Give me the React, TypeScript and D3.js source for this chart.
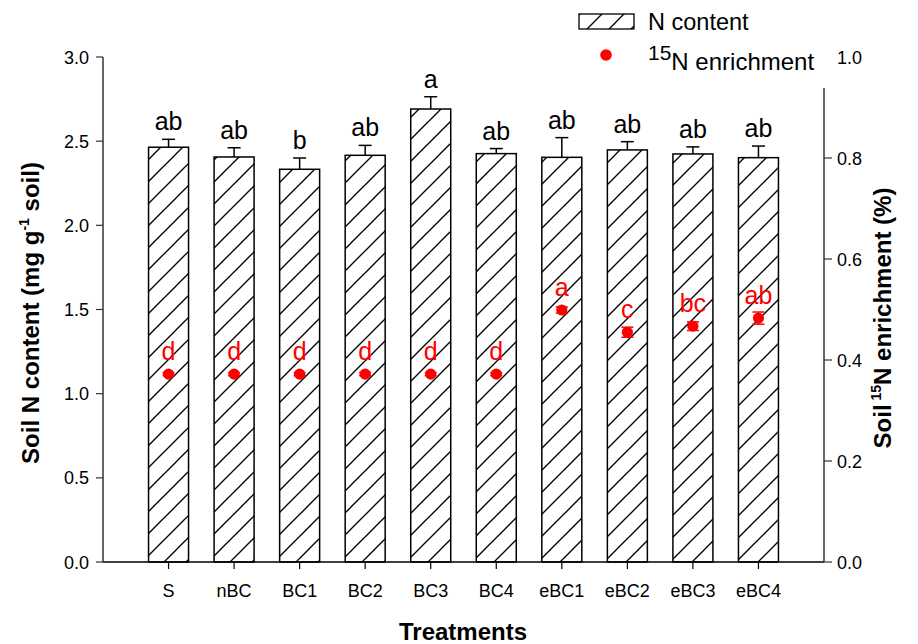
import React from "react";
import * as d3 from "d3";

// Treatments and measured values
const categories = ["S", "nBC", "BC1", "BC2", "BC3", "BC4", "eBC1", "eBC2", "eBC3", "eBC4"];
const nContent = [2.464, 2.406, 2.333, 2.416, 2.691, 2.426, 2.404, 2.448, 2.424, 2.402];
const nContentSE = [0.047, 0.055, 0.067, 0.059, 0.073, 0.03, 0.117, 0.049, 0.042, 0.069];
const nLetters = ["ab", "ab", "b", "ab", "a", "ab", "ab", "ab", "ab", "ab"];
const enrichment = [0.372, 0.372, 0.372, 0.372, 0.372, 0.372, 0.499, 0.455, 0.467, 0.483];
const enrichmentSE = [0.003, 0.003, 0.003, 0.003, 0.003, 0.003, 0.006, 0.01, 0.0085, 0.012];
const enrichLetters = ["d", "d", "d", "d", "d", "d", "a", "c", "bc", "ab"];
const leftTicks = [0, 0.5, 1.0, 1.5, 2.0, 2.5, 3.0];
const rightTicks = [0, 0.2, 0.4, 0.6, 0.8, 1.0];

const W = 918;
const H = 644;
const M = { left: 103, right: 824, top: 57, bottom: 562 };
const FONT = "'Liberation Sans', Arial, Helvetica, sans-serif";
const RED = "#ff0000";

export default function App() {
  const x = d3.scaleLinear().domain([0, categories.length + 1]).range([M.left, M.right]);
  const yL = d3.scaleLinear().domain([0, 3]).range([M.bottom, M.top]);
  const yR = d3.scaleLinear().domain([0, 1]).range([M.bottom, M.top]);
  const fmt = d3.format(".1f");
  const barW = 40;
  const capW = 13;

  return (
    <svg
      width={W}
      height={H}
      style={{ position: "absolute", left: 0, top: 0, background: "#fff" }}
      fontFamily={FONT}
    >
      <defs>
        <pattern id="hatch" patternUnits="userSpaceOnUse" width={22} height={22}>
          <line x1={-2} y1={24} x2={24} y2={-2} stroke="#000" strokeWidth={1.3} />
          <line x1={-24} y1={24} x2={2} y2={-2} stroke="#000" strokeWidth={1.3} />
          <line x1={20} y1={24} x2={46} y2={-2} stroke="#000" strokeWidth={1.3} />
        </pattern>
      </defs>

      {/* bars with hatch fill */}
      {categories.map((c, i) => {
        const cx = x(i + 1);
        return (
          <g key={c}>
            <line
              x1={cx}
              x2={cx}
              y1={yL(nContent[i])}
              y2={yL(nContent[i] + nContentSE[i])}
              stroke="#000"
              strokeWidth={1.5}
            />
            <line
              x1={cx - capW / 2}
              x2={cx + capW / 2}
              y1={yL(nContent[i] + nContentSE[i])}
              y2={yL(nContent[i] + nContentSE[i])}
              stroke="#000"
              strokeWidth={1.5}
            />
            <rect
              x={cx - barW / 2}
              y={yL(nContent[i])}
              width={barW}
              height={yL(0) - yL(nContent[i])}
              fill="url(#hatch)"
              stroke="#000"
              strokeWidth={1.5}
            />
            <text
              x={cx}
              y={yL(nContent[i] + nContentSE[i]) - 9}
              textAnchor="middle"
              fontSize={25}
              fill="#000"
            >
              {nLetters[i]}
            </text>
          </g>
        );
      })}

      {/* 15N enrichment points */}
      {categories.map((c, i) => {
        const cx = x(i + 1);
        const hi = yR(enrichment[i] + enrichmentSE[i]);
        const lo = yR(enrichment[i] - enrichmentSE[i]);
        return (
          <g key={"p" + c}>
            <line x1={cx} x2={cx} y1={lo} y2={hi} stroke={RED} strokeWidth={1.5} />
            <line x1={cx - 6} x2={cx + 6} y1={hi} y2={hi} stroke={RED} strokeWidth={1.5} />
            <line x1={cx - 6} x2={cx + 6} y1={lo} y2={lo} stroke={RED} strokeWidth={1.5} />
            <circle cx={cx} cy={yR(enrichment[i])} r={5.6} fill={RED} />
            <text
              x={cx}
              y={yR(enrichment[i]) - 14}
              textAnchor="middle"
              fontSize={25}
              fill={RED}
            >
              {enrichLetters[i]}
            </text>
          </g>
        );
      })}

      {/* bottom axis */}
      <line x1={M.left} x2={M.right} y1={M.bottom} y2={M.bottom} stroke="#000" strokeWidth={1.5} />
      {categories.map((c, i) => (
        <g key={"xt" + c}>
          <line x1={x(i + 1)} x2={x(i + 1)} y1={M.bottom} y2={M.bottom + 7} stroke="#000" strokeWidth={1.2} />
          <text x={x(i + 1)} y={M.bottom + 35} textAnchor="middle" fontSize={18} fill="#000">
            {c}
          </text>
        </g>
      ))}

      {/* left axis */}
      <line x1={M.left} x2={M.left} y1={M.bottom} y2={M.top} stroke="#333" strokeWidth={1.5} />
      {leftTicks.map((t) => (
        <g key={"yl" + t}>
          <line x1={M.left - 7} x2={M.left} y1={yL(t)} y2={yL(t)} stroke="#333" strokeWidth={1.2} />
          <text x={M.left - 14} y={yL(t) + 6.5} textAnchor="end" fontSize={18} fill="#000">
            {fmt(t)}
          </text>
        </g>
      ))}

      {/* right axis */}
      <line x1={M.right} x2={M.right} y1={M.bottom} y2={M.top} stroke="#333" strokeWidth={1.5} />
      {rightTicks.map((t) => (
        <g key={"yr" + t}>
          <line x1={M.right} x2={M.right + 8} y1={yR(t)} y2={yR(t)} stroke="#333" strokeWidth={1.2} />
          <text x={M.right + 13} y={yR(t) + 6.5} textAnchor="start" fontSize={18} fill="#000">
            {fmt(t)}
          </text>
        </g>
      ))}

      {/* axis titles */}
      <text x={463} y={640} textAnchor="middle" fontSize={24} fontWeight="bold" fill="#000">
        Treatments
      </text>
      <text
        transform="translate(39,313) rotate(-90)"
        textAnchor="middle"
        fontSize={24}
        fontWeight="bold"
        fill="#000"
      >
        Soil N content (mg g
        <tspan fontSize={14} dy={-10}>-1</tspan>
        <tspan dy={10}> soil)</tspan>
      </text>
      <text
        transform="translate(891,318) rotate(-90)"
        textAnchor="middle"
        fontSize={24}
        fontWeight="bold"
        fill="#000"
      >
        Soil
        <tspan fontSize={14} dy={-10}> 15</tspan>
        <tspan dy={10}>N enrichment (%)</tspan>
      </text>

      {/* legend */}
      <rect x={568} y={0} width={266} height={88} fill="#fff" />
      <rect x={579} y={14} width={55} height={15} fill="url(#hatch)" stroke="#000" strokeWidth={1.3} />
      <text x={648} y={30} fontSize={23.5} fill="#000">
        N content
      </text>
      <circle cx={606} cy={55} r={5.8} fill={RED} />
      <text x={648} y={70} fontSize={24} fill="#000">
        <tspan fontSize={21} dy={-10}>15</tspan>
        <tspan dy={10}>N enrichment</tspan>
      </text>
    </svg>
  );
}
